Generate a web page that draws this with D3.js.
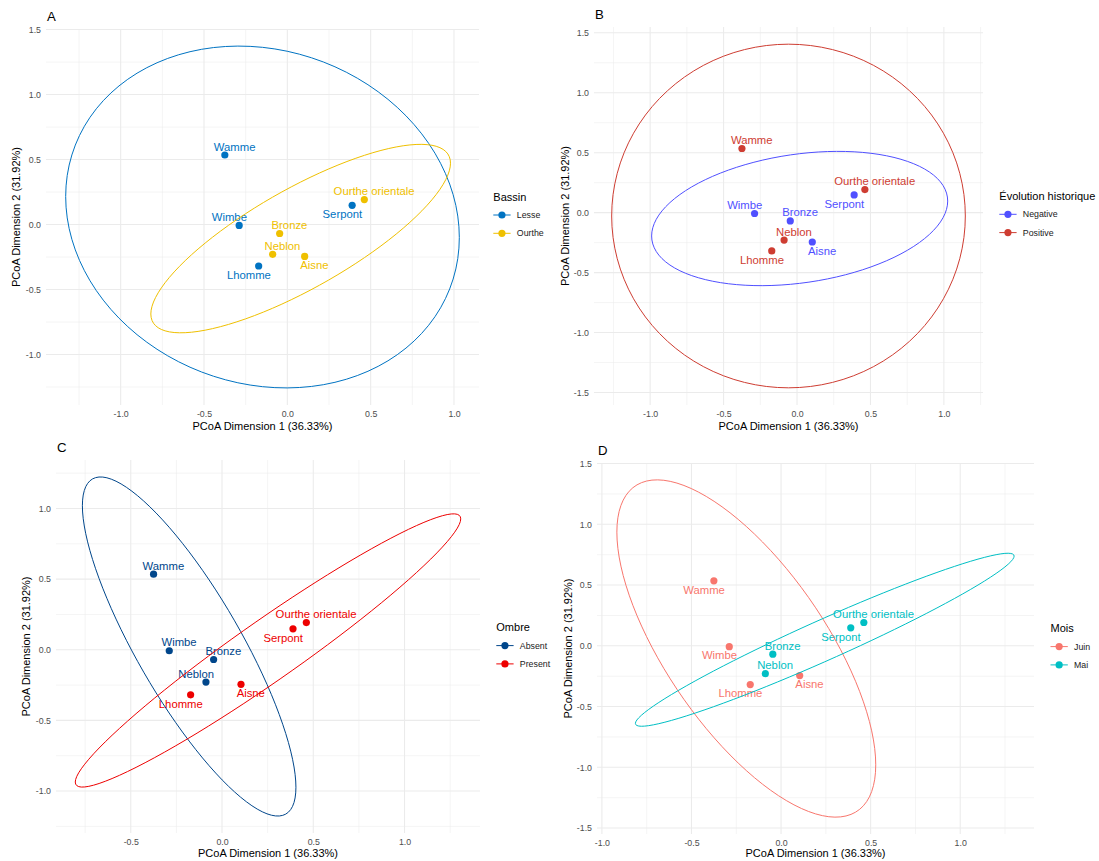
<!DOCTYPE html>
<html>
<head>
<meta charset="utf-8">
<script src="https://cdn.jsdelivr.net/npm/d3@7"></script>
<style>
  body { margin: 0; background: #fff; }
  svg { display: block; font-family: "Liberation Sans", Arial, Helvetica, sans-serif; }
  .grid-major { stroke: #ebebeb; stroke-width: 1.07; }
  .grid-minor { stroke: #ebebeb; stroke-width: 0.55; }
  .tick-labels text { fill: #4d4d4d; font-size: 8.8px; font-family: "Liberation Sans", Arial, sans-serif; }
  .axis-title { fill: #000; font-size: 11px; }
  .panel-tag { fill: #000; font-size: 13.2px; }
  .legend-title { fill: #000; font-size: 11px; }
  .legend-text { fill: #1a1a1a; font-size: 8.8px; }
</style>
</head>
<body>
<div id="chart"></div>
<script>
// PCoA site scores
const sites = ["Wamme", "Wimbe", "Lhomme", "Neblon", "Bronze", "Aisne", "Serpont", "Ourthe orientale"]
const dim1 = [-0.375, -0.289, -0.172, -0.088, -0.046, 0.104, 0.389, 0.462]
const dim2 = [0.535, -0.007, -0.319, -0.229, -0.069, -0.245, 0.148, 0.192]

const xTitle = "PCoA Dimension 1 (36.33%)"
const yTitle = "PCoA Dimension 2 (31.92%)"

// groupings
const bassin = ["Lesse", "Lesse", "Lesse", "Ourthe", "Ourthe", "Ourthe", "Lesse", "Ourthe"]
const evolution = ["Positive", "Negative", "Positive", "Positive", "Negative", "Negative", "Negative", "Positive"]
const ombre = ["Absent", "Absent", "Present", "Absent", "Absent", "Present", "Present", "Present"]
const mois = ["Juin", "Juin", "Juin", "Mai", "Mai", "Juin", "Mai", "Mai"]

const bassinLevels = ["Lesse", "Ourthe"]
const evolutionLevels = ["Negative", "Positive"]
const ombreLevels = ["Absent", "Present"]
const moisLevels = ["Juin", "Mai"]

const bassinColors = ["#0073C2", "#EFC000"]
const evolutionColors = ["#5050FF", "#CE3D32"]
const ombreColors = ["#00468B", "#ED0000"]
const moisColors = ["#F8766D", "#00BFC4"]

// ellipses: [centre x, centre y, half range x, half range y, correlation]
const bassinEllipses = [[-0.149, 0.058, 1.181, 1.315, -0.12], [0.080, -0.108, 0.899, 0.725, 0.80]]
const evolutionEllipses = [[0.018, -0.049, 1.008, 0.560, 0.26], [-0.058, -0.028, 1.204, 1.433, 0.0]]
const ombreEllipses = [[-0.180, 0.023, 0.585, 1.200, -0.83], [0.252, -0.005, 1.056, 0.967, 0.963]]
const moisEllipses = [[-0.194, -0.022, 0.7225, 1.388, -0.69], [0.244, 0.050, 1.057, 0.712, 0.967]]

// label placement around each point (x sign, y sign)
const labelDirA = ["ur", "ul", "dl", "ur", "ur", "dr", "dl", "ur"]
const labelDirB = ["ur", "ul", "dl", "ur", "ur", "dr", "dl", "ur"]
const labelDirC = ["ur", "ur", "dl", "ul", "ur", "dr", "dl", "ur"]
const labelDirD = ["dl", "dl", "dl", "ur", "ur", "dr", "dl", "ur"]

const panels = [
  { tag: "A", groups: bassin, levels: bassinLevels, colors: bassinColors, ellipses: bassinEllipses,
    legendTitle: "Bassin", labelDir: labelDirA,
    box: { left: 46, top: 29, right: 479, bottom: 405 },
    yTitleX: 16.5, xTitleY: 426, legend: { x: 493.3, y: 196.7 } },
  { tag: "B", groups: evolution, levels: evolutionLevels, colors: evolutionColors, ellipses: evolutionEllipses,
    legendTitle: "Évolution historique", labelDir: labelDirB,
    box: { left: 594, top: 27, right: 983, bottom: 405 },
    yTitleX: 564.8, xTitleY: 426.5, legend: { x: 999.3, y: 196 } },
  { tag: "C", groups: ombre, levels: ombreLevels, colors: ombreColors, ellipses: ombreEllipses,
    legendTitle: "Ombre", labelDir: labelDirC,
    box: { left: 56, top: 460, right: 480, bottom: 833 },
    yTitleX: 26.4, xTitleY: 853, legend: { x: 496.3, y: 627.3 } },
  { tag: "D", groups: mois, levels: moisLevels, colors: moisColors, ellipses: moisEllipses,
    legendTitle: "Mois", labelDir: labelDirD,
    box: { left: 597, top: 463, right: 1034, bottom: 834 },
    yTitleX: 568.3, xTitleY: 853, legend: { x: 1050.5, y: 628.3 } }
]

const width = 1099
const height = 861
const pointRadius = 3.6

const svg = d3.select("#chart").append("svg")
    .attr("width", width)
    .attr("height", height)

panels.forEach(drawPanel)

function ellipsePoints(e) {
  const [cx, cy, ax, ay, rho] = e
  const delta = Math.acos(rho)
  return d3.range(0, 101).map(i => {
    const s = i / 100 * 2 * Math.PI
    return [cx + ax * Math.cos(s), cy + ay * Math.cos(s - delta)]
  })
}

function minorTicks(scale, major) {
  const step = major[1] - major[0]
  const [d0, d1] = scale.domain()
  const out = []
  for (let v = major[0] - step / 2; v <= d1; v += step) {
    if (v >= d0) out.push(v)
  }
  return out
}

function drawPanel(p) {
  const { box } = p
  const ell = p.ellipses

  // ggplot style limits: data range (with ellipses) expanded by 5%
  const xLo = d3.min([...ell.map(e => e[0] - e[2]), ...dim1])
  const xHi = d3.max([...ell.map(e => e[0] + e[2]), ...dim1])
  const yLo = d3.min([...ell.map(e => e[1] - e[3]), ...dim2])
  const yHi = d3.max([...ell.map(e => e[1] + e[3]), ...dim2])
  const xPad = (xHi - xLo) * 0.05
  const yPad = (yHi - yLo) * 0.05

  const x = d3.scaleLinear()
    .domain([xLo - xPad, xHi + xPad])
    .range([box.left, box.right])
  const y = d3.scaleLinear()
    .domain([yLo - yPad, yHi + yPad])
    .range([box.bottom, box.top])

  const color = d3.scaleOrdinal().domain(p.levels).range(p.colors)

  const g = svg.append("g").attr("class", "panel panel-" + p.tag)

  // grid
  const xMajor = x.ticks(5)
  const yMajor = y.ticks(5)
  const grid = g.append("g").attr("class", "grid")

  grid.selectAll(".gx-minor")
    .data(minorTicks(x, xMajor))
    .join("line")
      .attr("class", "grid-minor")
      .attr("x1", d => x(d)).attr("x2", d => x(d))
      .attr("y1", box.top).attr("y2", box.bottom)
  grid.selectAll(".gy-minor")
    .data(minorTicks(y, yMajor))
    .join("line")
      .attr("class", "grid-minor")
      .attr("x1", box.left).attr("x2", box.right)
      .attr("y1", d => y(d)).attr("y2", d => y(d))
  grid.selectAll(".gx-major")
    .data(xMajor)
    .join("line")
      .attr("class", "grid-major")
      .attr("x1", d => x(d)).attr("x2", d => x(d))
      .attr("y1", box.top).attr("y2", box.bottom)
  grid.selectAll(".gy-major")
    .data(yMajor)
    .join("line")
      .attr("class", "grid-major")
      .attr("x1", box.left).attr("x2", box.right)
      .attr("y1", d => y(d)).attr("y2", d => y(d))

  // tick labels (no axis lines in theme_minimal)
  const fmt = d => d.toFixed(1)
  g.append("g")
      .attr("class", "tick-labels")
      .attr("transform", `translate(0,${box.bottom})`)
      .call(d3.axisBottom(x).tickValues(xMajor).tickSize(0).tickPadding(6).tickFormat(fmt))
      .call(a => a.select(".domain").remove())
  g.append("g")
      .attr("class", "tick-labels")
      .attr("transform", `translate(${box.left},0)`)
      .call(d3.axisLeft(y).tickValues(yMajor).tickSize(0).tickPadding(5).tickFormat(fmt))
      .call(a => a.select(".domain").remove())
  g.selectAll(".tick-labels text").attr("font-family", null).attr("font-size", null)

  // axis titles
  g.append("text")
      .attr("class", "axis-title")
      .attr("x", (box.left + box.right) / 2)
      .attr("y", p.xTitleY)
      .attr("dy", "0.35em")
      .attr("text-anchor", "middle")
      .text(xTitle)
  g.append("text")
      .attr("class", "axis-title")
      .attr("transform", `translate(${p.yTitleX},${(box.top + box.bottom) / 2}) rotate(-90)`)
      .attr("dy", "0.35em")
      .attr("text-anchor", "middle")
      .text(yTitle)

  // panel tag
  g.append("text")
      .attr("class", "panel-tag")
      .attr("x", box.left + 1)
      .attr("y", box.top - 8.5)
      .text(p.tag)

  const idx = d3.range(sites.length)

  // points
  g.append("g").selectAll("circle")
    .data(idx)
    .join("circle")
      .attr("cx", i => x(dim1[i]))
      .attr("cy", i => y(dim2[i]))
      .attr("r", pointRadius)
      .attr("fill", i => color(p.groups[i]))

  // labels
  g.append("g").selectAll("text")
    .data(idx)
    .join("text")
      .attr("x", i => x(dim1[i]) + (p.labelDir[i][1] === "r" ? 9.8 : -9.8))
      .attr("y", i => y(dim2[i]) + (p.labelDir[i][0] === "d" ? 8.7 : -8.5))
      .attr("dy", "0.36em")
      .attr("text-anchor", "middle")
      .attr("font-size", "11.3px")
      .attr("fill", i => color(p.groups[i]))
      .text(i => sites[i])

  // ellipses
  const line = d3.line()
    .x(d => x(d[0]))
    .y(d => y(d[1]))
    .curve(d3.curveLinearClosed)
  g.append("g").selectAll("path")
    .data(ell)
    .join("path")
      .attr("d", e => line(ellipsePoints(e)))
      .attr("fill", "none")
      .attr("stroke", (e, i) => p.colors[i])
      .attr("stroke-width", 1)

  // legend
  const lg = g.append("g")
      .attr("transform", `translate(${p.legend.x},${p.legend.y})`)
  lg.append("text")
      .attr("class", "legend-title")
      .attr("dy", "0.35em")
      .text(p.legendTitle)
  const keys = lg.selectAll(".key")
    .data(p.levels)
    .join("g")
      .attr("class", "key")
      .attr("transform", (d, i) => `translate(0,${18.3 * (i + 1)})`)
  keys.append("line")
      .attr("x1", 0).attr("x2", 17.3)
      .attr("stroke", d => color(d))
      .attr("stroke-width", 1)
  keys.append("circle")
      .attr("cx", 8.65)
      .attr("r", pointRadius)
      .attr("fill", d => color(d))
  keys.append("text")
      .attr("class", "legend-text")
      .attr("x", 23.5)
      .attr("dy", "0.35em")
      .text(d => d)
}
</script>
</body>
</html>
